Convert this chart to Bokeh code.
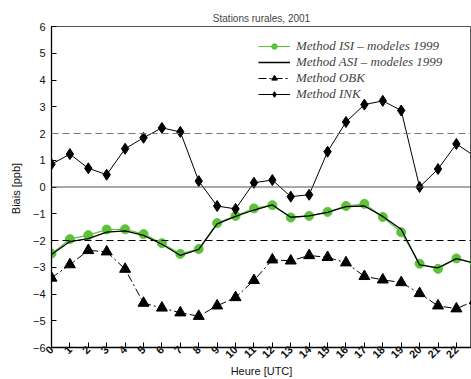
import math
from bokeh.plotting import figure
from bokeh.models import Legend, LegendItem, Span, Range1d, FixedTicker
from bokeh.embed import file_html
from bokeh.resources import INLINE

hours = list(range(24))
isi = [-2.49, -1.95, -1.80, -1.59, -1.58, -1.76, -2.10, -2.50, -2.32, -1.35, -1.08, -0.80,
       -0.68, -1.14, -1.08, -0.93, -0.71, -0.63, -1.12, -1.69, -2.87, -3.06, -2.67, -2.85]
asi = [-2.52, -2.04, -1.93, -1.69, -1.64, -1.81, -2.14, -2.56, -2.33, -1.38, -1.10, -0.86,
       -0.67, -1.13, -1.08, -0.95, -0.73, -0.71, -1.10, -1.58, -2.91, -3.02, -2.68, -2.85]
obk = [-3.40, -2.90, -2.37, -2.42, -3.07, -4.34, -4.52, -4.70, -4.83, -4.44, -4.13, -3.49,
       -2.72, -2.76, -2.56, -2.63, -2.83, -3.34, -3.47, -3.57, -3.98, -4.44, -4.55, -4.25]
ink = [0.85, 1.23, 0.70, 0.46, 1.43, 1.84, 2.21, 2.06, 0.22, -0.71, -0.82, 0.16,
       0.26, -0.36, -0.29, 1.32, 2.43, 3.08, 3.22, 2.86, 0.00, 0.67, 1.61, 1.15]
y_ticks = list(range(-6, 7))
x_ticks = list(range(0, 24))

GREEN = "#5dc23a"

p = figure(width=471, height=379, output_backend="svg", toolbar_location=None,
           x_range=Range1d(0, 22.82), y_range=Range1d(-6, 6),
           min_border_left=51, min_border_right=0, min_border_top=26, min_border_bottom=31)
p.title.text = "Stations rurales, 2001"
p.title.align = "center"
p.title.text_font = "Liberation Sans"
p.title.text_font_size = "10px"
p.title.text_font_style = "normal"
p.title.offset = 0
p.title.standoff = 6

p.grid.visible = False
p.outline_line_color = "#555555"
p.outline_line_width = 1
p.background_fill_color = "white"
p.border_fill_color = "white"

# reference lines
p.add_layout(Span(location=2, dimension="width", line_color="#777777", line_dash="7 4", line_width=1.2))
p.add_layout(Span(location=-2, dimension="width", line_color="black", line_dash="7 4", line_width=1.2))
p.add_layout(Span(location=0, dimension="width", line_color="#555555", line_width=1.2))

r_isi_l = p.line(hours, isi, line_color=GREEN, line_width=1.2)
r_isi_m = p.scatter(hours, isi, marker="circle", size=9, fill_color=GREEN, line_color=GREEN)
r_asi = p.line(hours, asi, line_color="black", line_width=1.3)
r_obk_l = p.line(hours, obk, line_color="black", line_width=1, line_dash="8 3 2 3")
r_obk_m = p.scatter(hours, obk, marker="triangle", size=11, fill_color="black", line_color="black")
r_ink_l = p.line(hours, ink, line_color="black", line_width=1)
r_ink_m = p.scatter(hours, ink, marker="diamond", size=11, fill_color="black", line_color="black")

legend = Legend(items=[
    LegendItem(label="Method ISI \u2013 modeles 1999", renderers=[r_isi_l, r_isi_m]),
    LegendItem(label="Method ASI \u2013 modeles 1999", renderers=[r_asi]),
    LegendItem(label="Method OBK", renderers=[r_obk_l, r_obk_m]),
    LegendItem(label="Method INK", renderers=[r_ink_l, r_ink_m]),
], location=(207, 245))
legend.background_fill_alpha = 0
legend.border_line_alpha = 0
legend.padding = 0
legend.margin = 0
legend.spacing = -2
legend.glyph_width = 32
legend.glyph_height = 14
legend.label_height = 14
legend.label_standoff = 6
legend.label_text_font = "Liberation Serif"
legend.label_text_font_style = "italic"
legend.label_text_font_size = "13px"
legend.label_text_baseline = "middle"
p.add_layout(legend, "center")

# axes
p.xaxis.ticker = FixedTicker(ticks=x_ticks)
p.yaxis.ticker = FixedTicker(ticks=y_ticks)
p.yaxis.major_label_overrides = {t: (str(t) if t >= 0 else "\u2212" + str(-t)) for t in y_ticks}
for ax in (p.xaxis, p.yaxis):
    ax.axis_line_color = "black"
    ax.axis_line_width = 1.3
    ax.major_tick_in = 5
    ax.major_tick_out = 0
    ax.minor_tick_line_color = None
    ax.major_tick_line_color = "black"
    ax.major_label_text_font = "Liberation Sans"
    ax.major_label_text_font_size = "11px"
    ax.major_label_text_color = "#111111"
    ax.axis_label_text_font = "Liberation Sans"
    ax.axis_label_text_font_size = "11px"
    ax.axis_label_text_font_style = "normal"
    ax.axis_label_text_color = "#111111"
p.xaxis.major_label_orientation = math.pi / 4
p.xaxis.major_label_text_font_style = "bold"
p.xaxis.major_label_standoff = 0
p.xaxis.axis_label = "Heure [UTC]"
p.xaxis.axis_label_standoff = 0
p.yaxis.axis_label = "Biais  [ppb]"
p.yaxis.axis_label_standoff = 8
p.yaxis.major_label_standoff = 6

open("out.html", "w").write(file_html(p, INLINE))
